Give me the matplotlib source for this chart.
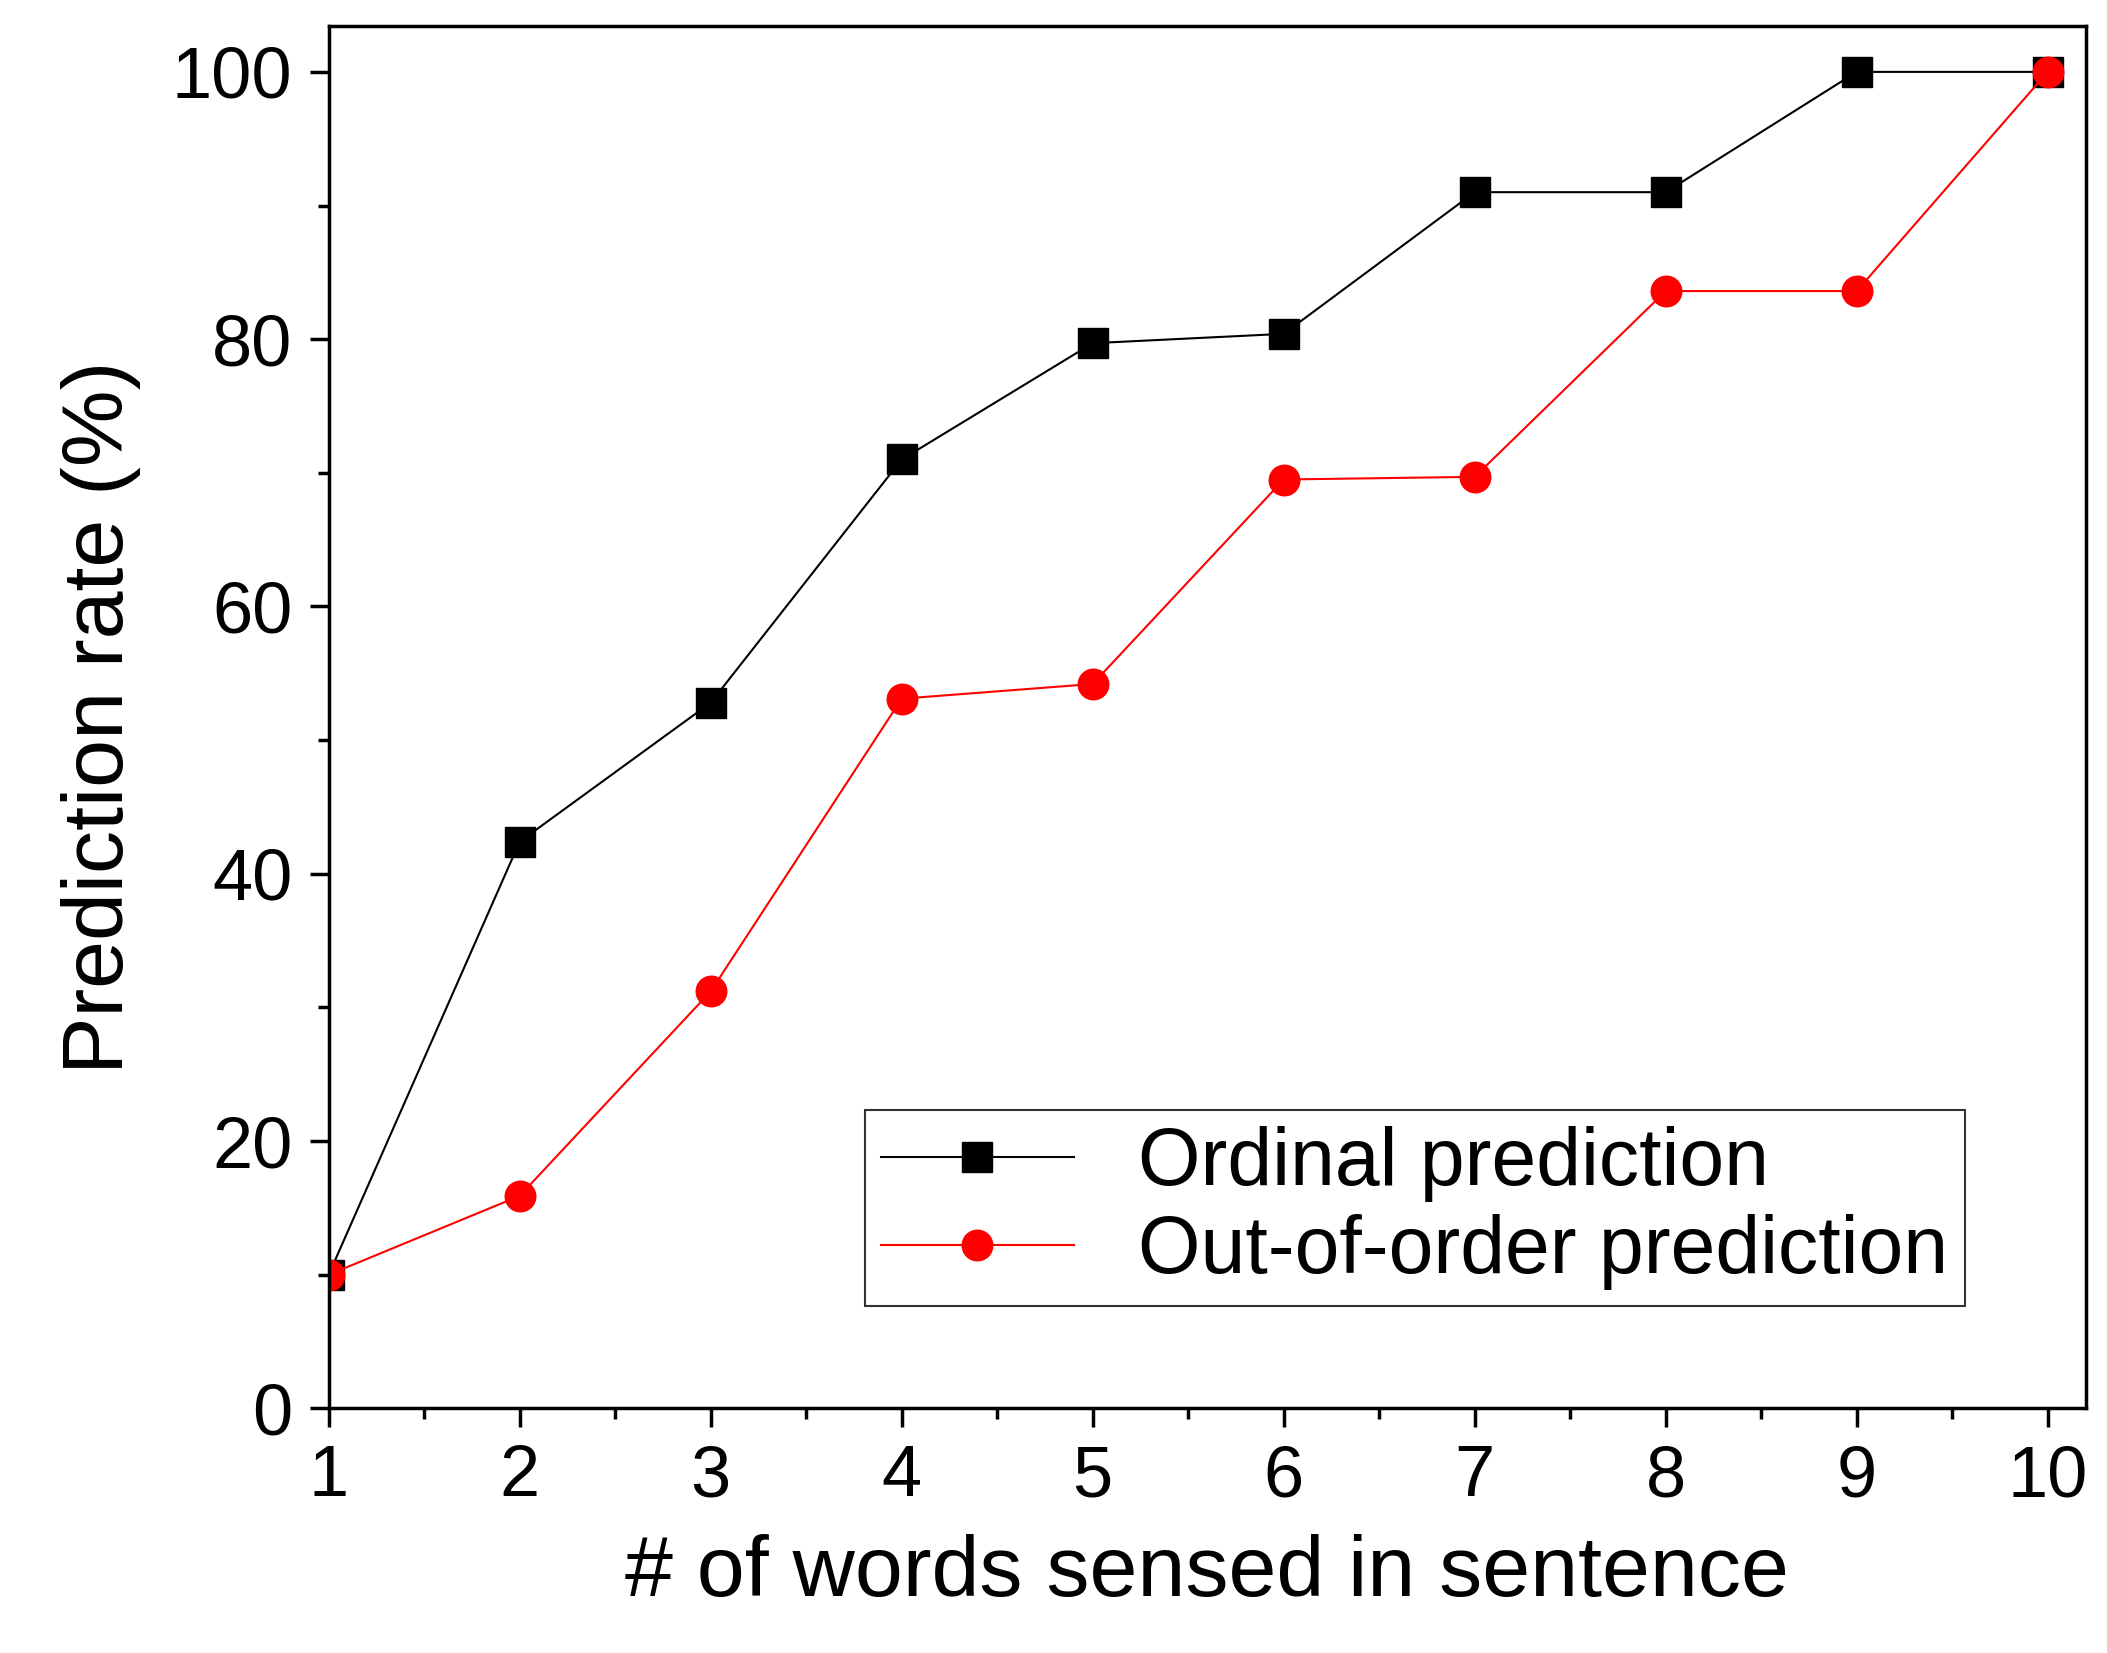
import matplotlib
matplotlib.use("Agg")
import matplotlib.pyplot as plt
from matplotlib.ticker import MultipleLocator

plt.rcParams['font.family'] = ['Liberation Sans', 'DejaVu Sans']

x = [1, 2, 3, 4, 5, 6, 7, 8, 9, 10]
ordinal = [10, 42.4, 52.8, 71.0, 79.7, 80.4, 91.0, 91.0, 100, 100]
out_of_order = [10, 15.9, 31.2, 53.1, 54.2, 69.5, 69.7, 83.6, 83.6, 100]

fig = plt.figure(figsize=(21.07, 16.53), dpi=100)
ax = fig.add_axes([0.156, 0.148, 0.834, 0.836])
ax.plot(x, ordinal, color='black', lw=1.5, marker='s', ms=21, label='Ordinal prediction')
ax.plot(x, out_of_order, color='red', lw=1.5, marker='o', ms=22, label='Out-of-order prediction')
ax.set_xlim(1, 10.2)
ax.set_ylim(0, 103.4)
ax.xaxis.set_major_locator(MultipleLocator(1))
ax.xaxis.set_minor_locator(MultipleLocator(0.5))
ax.yaxis.set_major_locator(MultipleLocator(20))
ax.yaxis.set_minor_locator(MultipleLocator(10))
ax.tick_params(which='major', direction='out', length=14, width=2.5, labelsize=52, pad=12)
ax.tick_params(which='minor', direction='out', length=8, width=2.5)
for s in ax.spines.values():
    s.set_linewidth(2.5)
ax.set_xlabel('# of words sensed in sentence', fontsize=62, labelpad=16)
ax.set_ylabel('Prediction rate (%)', fontsize=62, labelpad=22)
leg = ax.legend(loc='lower left', bbox_to_anchor=(0.282, 0.045, 0.672, 0.155), mode='expand',
                fontsize=58, frameon=True, fancybox=False, edgecolor='black',
                handlelength=2.4, borderpad=0.2, labelspacing=0.15)
leg.get_frame().set_linewidth(1.5)
fig.savefig('out.png', dpi=100)
